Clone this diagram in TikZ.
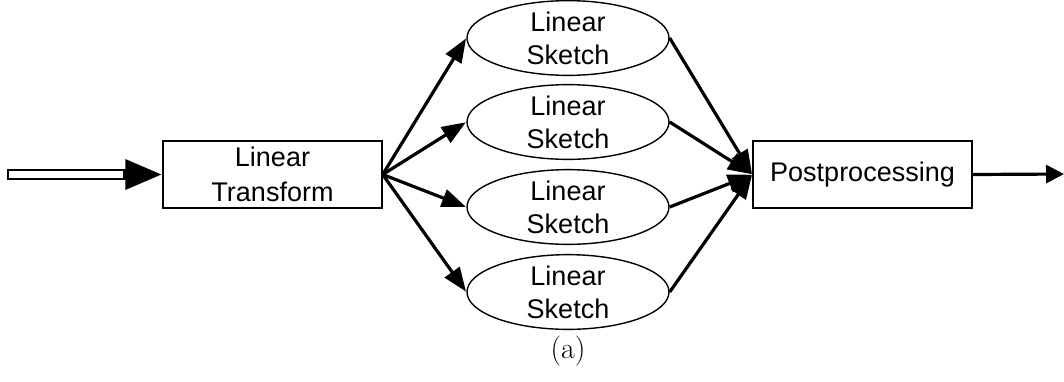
\documentclass[tikz,border=0pt]{standalone}
\usepackage{fontspec}
\setsansfont{Liberation Sans}
\usetikzlibrary{arrows.meta,shapes.geometric}
\tikzset{
  box/.style={draw, line width=1.4pt, rectangle, minimum width=219pt, minimum height=67pt,
    align=center, font=\sffamily\fontsize{27}{35}\selectfont, inner sep=0pt},
  sketch/.style={draw, line width=1.4pt, ellipse, minimum width=202pt, minimum height=66pt,
    align=center, font=\sffamily\fontsize{27}{33}\selectfont, inner sep=0pt},
  flow/.style={line width=3.2pt, -{Triangle[length=24pt,width=18pt]}, shorten >=0.5pt},
  outflow/.style={line width=3.2pt, -{Triangle[length=18pt,width=18pt]}}
}
\begin{document}
\begin{tikzpicture}[x=1pt,y=-1pt]
  \useasboundingbox (0,0) rectangle (1064,381);

  % processing blocks
  \node[box] (lt) at (272.5,174.5) {Linear\\Transform};
  \node[box] (pp) at (862.5,174.5) {Postprocessing};

  % parallel sketches
  \node[sketch] (s1) at (568,38)  {Linear\\Sketch};
  \node[sketch] (s2) at (568,122) {Linear\\Sketch};
  \node[sketch] (s3) at (568,207) {Linear\\Sketch};
  \node[sketch] (s4) at (568,292) {Linear\\Sketch};

  % hollow input arrow
  \coordinate (src) at (8,174.5);
  \draw[line width=2.6pt] ([yshift=-4.5pt]src) rectangle ([xshift=-38pt,yshift=4.5pt]lt.west);
  \fill ([xshift=-1pt]lt.west) -- ++(-36,-15.5) -- ++(0,31) -- cycle;

  % fan out to sketches
  \foreach \s in {s1,s2,s3,s4} {
    \draw[flow] (lt.east) -- (\s.west);
  }
  % fan in to postprocessing
  \foreach \s in {s1,s2,s3,s4} {
    \draw[flow] (\s.east) -- (pp.west);
  }

  % output
  \coordinate (dst) at (1064,174);
  \draw[outflow] (pp.east) -- (dst);

  % caption
  \node (cap) at (568,351) {\fontsize{30}{34}\selectfont (a)};
\end{tikzpicture}
\end{document}
